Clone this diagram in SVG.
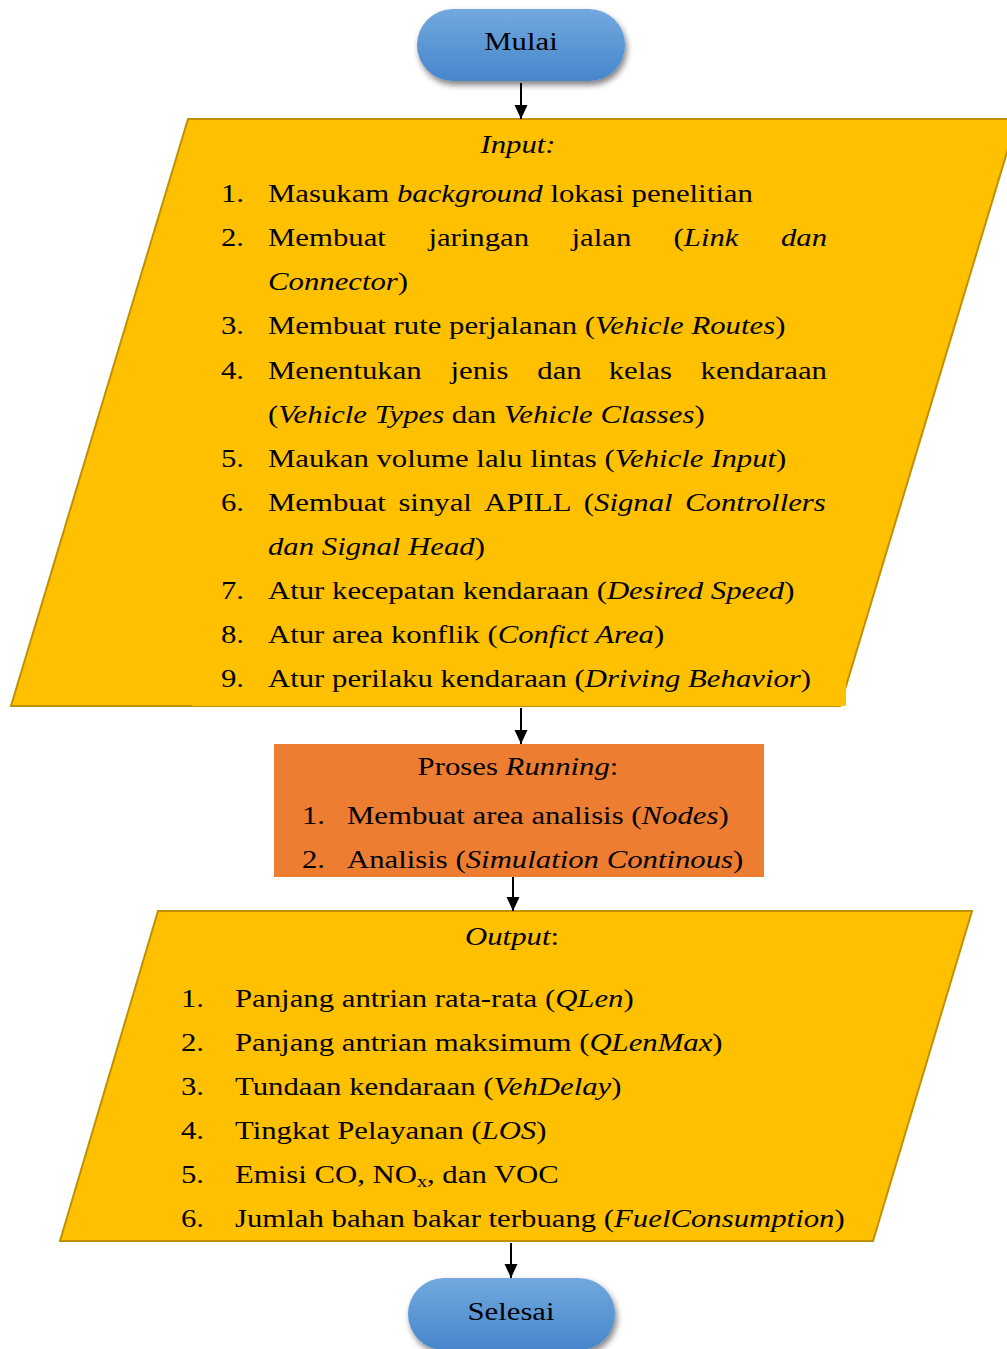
<svg xmlns="http://www.w3.org/2000/svg" width="1007" height="1349" viewBox="0 0 1007 1349">
<style>
.t{font-family:"Liberation Serif","Times New Roman",serif;font-size:26px;fill:#000}
.i{font-style:italic}
.term{fill:url(#blue);filter:url(#sh)}
.para{fill:#FFC000;stroke:#BF9000;stroke-width:2}
.cover{fill:#FFC000}
.conn line{stroke:#000;stroke-width:2;marker-end:url(#arr)}
</style>
<defs>
<linearGradient id="blue" x1="0" y1="0" x2="0" y2="1">
<stop offset="0" stop-color="#72A8DE"/>
<stop offset="1" stop-color="#4686CB"/>
</linearGradient>
<filter id="sh" x="-20%" y="-20%" width="140%" height="160%">
<feGaussianBlur in="SourceAlpha" stdDeviation="3"/>
<feOffset dx="2" dy="4" result="b"/>
<feComponentTransfer><feFuncA type="linear" slope="0.5"/></feComponentTransfer>
<feMerge><feMergeNode/><feMergeNode in="SourceGraphic"/></feMerge>
</filter>
<marker id="arr" markerUnits="userSpaceOnUse" markerWidth="16" markerHeight="14" refX="14" refY="6.5" orient="auto">
<path d="M0,0 L14,6.5 L0,13 Z" fill="#000"/>
</marker>
</defs>

<g id="mulai">
<rect class="term" x="417" y="9" width="208" height="72" rx="36"/>
<text class="t" transform="translate(521 50) scale(1.183 1)" text-anchor="middle">Mulai</text>
</g>

<g id="input">
<polygon class="para" points="188,119 1017,119 840,706 11,706"/>
<rect class="cover" x="192" y="160" width="654" height="546"/>
<text class="t i" transform="translate(518 153) scale(1.183 1)" text-anchor="middle">Input:</text>
<text class="t" transform="translate(221 202) scale(1.183 1)">1.</text>
<text class="t" transform="translate(268 202) scale(1.183 1)">Masukam <tspan class="i">background</tspan> lokasi penelitian</text>
<text class="t" transform="translate(221 246) scale(1.183 1)">2.</text>
<text class="t" transform="translate(268 246) scale(1.183 1)">Membuat</text>
<text class="t" transform="translate(428.4 246) scale(1.183 1)">jaringan</text>
<text class="t" transform="translate(571.5 246) scale(1.183 1)">jalan</text>
<text class="t" transform="translate(673.6 246) scale(1.183 1)">(<tspan class="i">Link</tspan></text>
<text class="t i" transform="translate(780.9 246) scale(1.183 1)">dan</text>
<text class="t" transform="translate(268 290) scale(1.183 1)"><tspan class="i">Connector</tspan>)</text>
<text class="t" transform="translate(221 334) scale(1.183 1)">3.</text>
<text class="t" transform="translate(268 334) scale(1.183 1)">Membuat rute perjalanan (<tspan class="i">Vehicle Routes</tspan>)</text>
<text class="t" transform="translate(221 379) scale(1.183 1)">4.</text>
<text class="t" transform="translate(268 379) scale(1.183 1)">Menentukan</text>
<text class="t" transform="translate(450.5 379) scale(1.183 1)">jenis</text>
<text class="t" transform="translate(537.3 379) scale(1.183 1)">dan</text>
<text class="t" transform="translate(608.7 379) scale(1.183 1)">kelas</text>
<text class="t" transform="translate(700.6 379) scale(1.183 1)">kendaraan</text>
<text class="t" transform="translate(268 423) scale(1.183 1)">(<tspan class="i">Vehicle Types</tspan> dan <tspan class="i">Vehicle Classes</tspan>)</text>
<text class="t" transform="translate(221 467) scale(1.183 1)">5.</text>
<text class="t" transform="translate(268 467) scale(1.183 1)">Maukan volume lalu lintas (<tspan class="i">Vehicle Input</tspan>)</text>
<text class="t" transform="translate(221 511) scale(1.183 1)">6.</text>
<text class="t" transform="translate(268 511) scale(1.183 1)">Membuat</text>
<text class="t" transform="translate(398.4 511) scale(1.183 1)">sinyal</text>
<text class="t" transform="translate(484.3 511) scale(1.183 1)">APILL</text>
<text class="t" transform="translate(583.8 511) scale(1.183 1)">(<tspan class="i">Signal</tspan></text>
<text class="t i" transform="translate(685.1 511) scale(1.183 1)">Controllers</text>
<text class="t" transform="translate(268 555) scale(1.183 1)"><tspan class="i">dan Signal Head</tspan>)</text>
<text class="t" transform="translate(221 599) scale(1.183 1)">7.</text>
<text class="t" transform="translate(268 599) scale(1.183 1)">Atur kecepatan kendaraan (<tspan class="i">Desired Speed</tspan>)</text>
<text class="t" transform="translate(221 643) scale(1.183 1)">8.</text>
<text class="t" transform="translate(268 643) scale(1.183 1)">Atur area konflik (<tspan class="i">Confict Area</tspan>)</text>
<text class="t" transform="translate(221 687) scale(1.183 1)">9.</text>
<text class="t" transform="translate(268 687) scale(1.183 1)">Atur perilaku kendaraan (<tspan class="i">Driving Behavior</tspan>)</text>
</g>

<g id="proses">
<rect x="274" y="744" width="490" height="133" fill="#ED7D31"/>
<text class="t" transform="translate(518 775) scale(1.183 1)" text-anchor="middle">Proses <tspan class="i">Running</tspan>:</text>
<text class="t" transform="translate(302 824) scale(1.183 1)">1.</text>
<text class="t" transform="translate(347 824) scale(1.183 1)">Membuat area analisis (<tspan class="i">Nodes</tspan>)</text>
<text class="t" transform="translate(302 868) scale(1.183 1)">2.</text>
<text class="t" transform="translate(347 868) scale(1.183 1)">Analisis (<tspan class="i">Simulation Continous</tspan>)</text>
</g>

<g id="output">
<polygon class="para" points="158,911 972,911 873,1241 60,1241"/>
<rect class="cover" x="160" y="950" width="690" height="290"/>
<text class="t" transform="translate(512 945) scale(1.183 1)" text-anchor="middle"><tspan class="i">Output</tspan>:</text>
<text class="t" transform="translate(181 1007) scale(1.183 1)">1.</text>
<text class="t" transform="translate(235 1007) scale(1.183 1)">Panjang antrian rata-rata (<tspan class="i">QLen</tspan>)</text>
<text class="t" transform="translate(181 1051) scale(1.183 1)">2.</text>
<text class="t" transform="translate(235 1051) scale(1.183 1)">Panjang antrian maksimum (<tspan class="i">QLenMax</tspan>)</text>
<text class="t" transform="translate(181 1095) scale(1.183 1)">3.</text>
<text class="t" transform="translate(235 1095) scale(1.183 1)">Tundaan kendaraan (<tspan class="i">VehDelay</tspan>)</text>
<text class="t" transform="translate(181 1139) scale(1.183 1)">4.</text>
<text class="t" transform="translate(235 1139) scale(1.183 1)">Tingkat Pelayanan (<tspan class="i">LOS</tspan>)</text>
<text class="t" transform="translate(181 1183) scale(1.183 1)">5.</text>
<text class="t" transform="translate(235 1183) scale(1.183 1)">Emisi CO, NO<tspan font-size="17" dy="4">x</tspan><tspan dy="-4">, dan VOC</tspan></text>
<text class="t" transform="translate(181 1227) scale(1.183 1)">6.</text>
<text class="t" transform="translate(235 1227) scale(1.183 1)">Jumlah bahan bakar terbuang (<tspan class="i">FuelConsumption</tspan>)</text>
</g>

<g id="selesai">
<rect class="term" x="408" y="1278" width="207" height="72" rx="36"/>
<text class="t" transform="translate(511 1320) scale(1.183 1)" text-anchor="middle">Selesai</text>
</g>

<g id="connectors" class="conn">
<line x1="521" y1="83" x2="521" y2="119"/>
<line x1="521" y1="708" x2="521" y2="744"/>
<line x1="513" y1="877" x2="513" y2="911"/>
<line x1="511" y1="1243" x2="511" y2="1278"/>
</g>
</svg>
